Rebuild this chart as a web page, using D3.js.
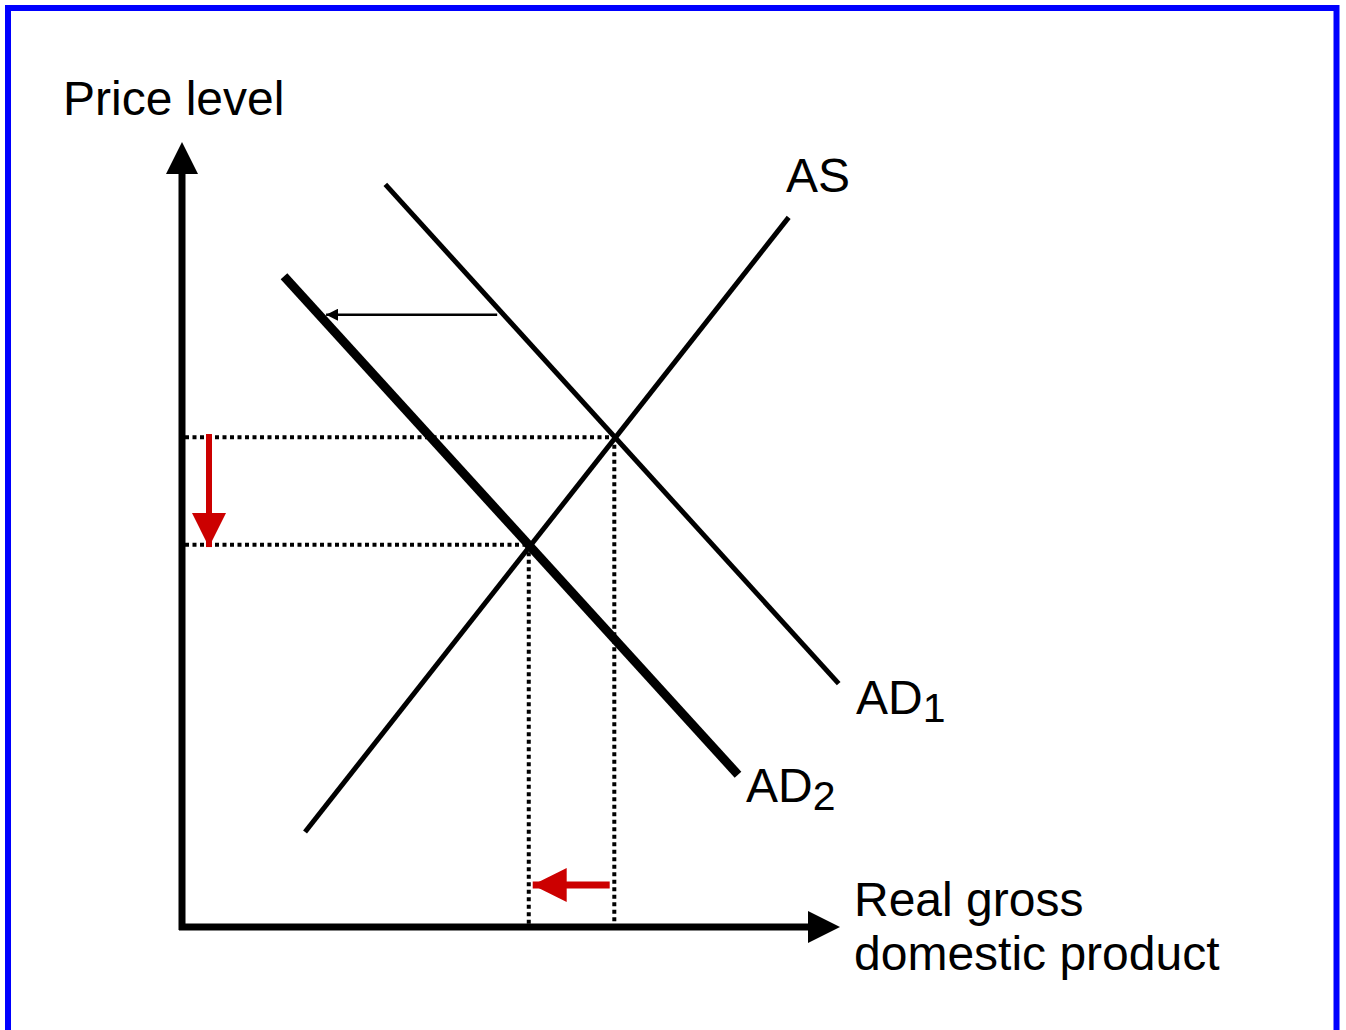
<!DOCTYPE html>
<html>
<head>
<meta charset="utf-8">
<script src="https://cdn.jsdelivr.net/npm/d3@7"></script>
<style>
    body { margin: 0; background: #fff; }
    text { font-family: "Liberation Sans", Arial, sans-serif; fill: #000; }
</style>
</head>
<body>
<div id="chart"></div>
<script>
// curves, in chart units (0-100 on both axes)
var curveNames = ["AS", "AD1", "AD2"];
var asCurve = [{x: 18.7, y: 12.1}, {x: 92.2, y: 90.4}];
var ad1Curve = [{x: 30.9, y: 94.6}, {x: 99.8, y: 31.0}];
var ad2Curve = [{x: 15.5, y: 82.9}, {x: 84.5, y: 19.4}];

// equilibria: before and after the shift
var equilibria = [{x: 65.7, y: 62.4}, {x: 52.7, y: 48.7}];

// shift arrows
var shiftArrow = [{x: 47.9, y: 78.0}, {x: 21.9, y: 78.0}];
var priceArrow = [{x: 4.1, y: 62.8}, {x: 4.1, y: 48.4}];
var outputArrow = [{x: 65.0, y: 5.35}, {x: 53.3, y: 5.35}];

var width = 1346, height = 1030;

var svg = d3.select("#chart").append("svg")
    .attr("width", width)
    .attr("height", height);

// blue frame
svg.append("rect")
    .attr("x", 8)
    .attr("y", 8)
    .attr("width", 1328.5)
    .attr("height", 1040)
    .attr("fill", "none")
    .attr("stroke", "#0000ff")
    .attr("stroke-width", 6);

var x = d3.scaleLinear().domain([0, 100]).range([182, 840]);
var y = d3.scaleLinear().domain([0, 100]).range([927, 142]);

var line = d3.line()
    .x(function(d) { return x(d.x); })
    .y(function(d) { return y(d.y); });

var defs = svg.append("defs");

defs.append("marker")
    .attr("id", "redhead")
    .attr("markerUnits", "userSpaceOnUse")
    .attr("viewBox", "0 0 34 34")
    .attr("refX", 34)
    .attr("refY", 17)
    .attr("markerWidth", 34)
    .attr("markerHeight", 34)
    .attr("orient", "auto")
    .append("path")
    .attr("d", "M0,0 L34,17 L0,34 Z")
    .attr("fill", "#cc0000");

defs.append("marker")
    .attr("id", "blackhead")
    .attr("markerUnits", "userSpaceOnUse")
    .attr("viewBox", "0 0 12 12")
    .attr("refX", 12)
    .attr("refY", 6)
    .attr("markerWidth", 12)
    .attr("markerHeight", 12)
    .attr("orient", "auto")
    .append("path")
    .attr("d", "M0,0 L12,6 L0,12 Z")
    .attr("fill", "#000");

// axes
var x0 = x(0), y0 = y(0);
svg.append("line")
    .attr("x1", x0).attr("y1", y0 + 3)
    .attr("x2", x0).attr("y2", y(100) + 30)
    .attr("stroke", "#000")
    .attr("stroke-width", 7);
svg.append("line")
    .attr("x1", x0 - 3).attr("y1", y0)
    .attr("x2", x(100) - 30).attr("y2", y0)
    .attr("stroke", "#000")
    .attr("stroke-width", 7);
svg.append("path")
    .attr("d", "M" + x0 + "," + y(100) + " L" + (x0 + 16) + "," + (y(100) + 32) + " L" + (x0 - 16) + "," + (y(100) + 32) + " Z")
    .attr("fill", "#000");
svg.append("path")
    .attr("d", "M" + x(100) + "," + y0 + " L" + (x(100) - 32) + "," + (y0 - 16) + " L" + (x(100) - 32) + "," + (y0 + 16) + " Z")
    .attr("fill", "#000");

// dotted guide lines
var guides = svg.append("g")
    .attr("stroke", "#000")
    .attr("stroke-width", 4)
    .attr("stroke-dasharray", "4,3.5")
    .attr("fill", "none");

equilibria.forEach(function(e) {
    guides.append("line")
        .attr("x1", x(0) + 3).attr("y1", y(e.y))
        .attr("x2", x(e.x)).attr("y2", y(e.y));
    guides.append("line")
        .attr("x1", x(e.x)).attr("y1", y(e.y))
        .attr("x2", x(e.x)).attr("y2", y(0) - 3);
});

// curves
svg.append("path").datum(asCurve)
    .attr("d", line).attr("stroke", "#000").attr("stroke-width", 5).attr("fill", "none");
svg.append("path").datum(ad1Curve)
    .attr("d", line).attr("stroke", "#000").attr("stroke-width", 5).attr("fill", "none");
svg.append("path").datum(ad2Curve)
    .attr("d", line).attr("stroke", "#000").attr("stroke-width", 9).attr("fill", "none");

// arrows
svg.append("path").datum(shiftArrow)
    .attr("d", line).attr("stroke", "#000").attr("stroke-width", 2.5)
    .attr("marker-end", "url(#blackhead)");
svg.append("path").datum(priceArrow)
    .attr("d", line).attr("stroke", "#cc0000").attr("stroke-width", 6)
    .attr("marker-end", "url(#redhead)");
svg.append("path").datum(outputArrow)
    .attr("d", line).attr("stroke", "#cc0000").attr("stroke-width", 7)
    .attr("marker-end", "url(#redhead)");

// labels
var fs = 48;
svg.append("text").attr("x", 63).attr("y", 115).style("font-size", fs + "px").text("Price level");
svg.append("text").attr("x", 786).attr("y", 192).style("font-size", fs + "px").text(curveNames[0]);

var ad1Label = svg.append("text").attr("x", 856).attr("y", 714).style("font-size", fs + "px");
ad1Label.append("tspan").text("AD");
ad1Label.append("tspan").attr("dy", 8).style("font-size", "41px").text("1");

var ad2Label = svg.append("text").attr("x", 746).attr("y", 802).style("font-size", fs + "px");
ad2Label.append("tspan").text("AD");
ad2Label.append("tspan").attr("dy", 8).style("font-size", "41px").text("2");

svg.append("text").attr("x", 854).attr("y", 916).style("font-size", fs + "px").text("Real gross");
svg.append("text").attr("x", 854).attr("y", 970).style("font-size", fs + "px").text("domestic product");
</script>
</body>
</html>
